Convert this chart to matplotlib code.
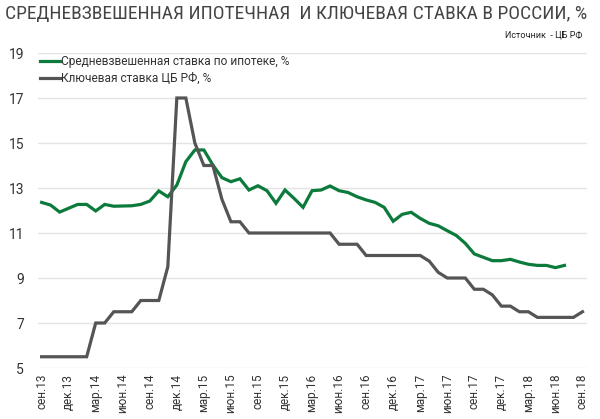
import matplotlib
matplotlib.use("Agg")
import matplotlib.pyplot as plt
from matplotlib import font_manager as fm

available = {f.name for f in fm.fontManager.ttflist}
def pick(cands):
    for c in cands:
        if c in available:
            return c
    return "DejaVu Sans"

COND = pick(["Roboto Condensed", "Liberation Sans Narrow", "Roboto", "DejaVu Sans"])
REG = pick(["Roboto", "Liberation Sans", "DejaVu Sans"])

# Tick labels (quarterly, Sep 2013 .. Sep 2018)
tick_labels = ["сен.13", "дек.13", "мар.14", "июн.14", "сен.14", "дек.14", "мар.15",
               "июн.15", "сен.15", "дек.15", "мар.16", "июн.16", "сен.16", "дек.16",
               "мар.17", "июн.17", "сен.17", "дек.17", "мар.18", "июн.18", "сен.18"]

# Monthly series starting Sep 2013
mortgage_rate = [12.36, 12.24, 11.93, 12.10, 12.27, 12.27, 11.98, 12.27, 12.19, 12.20,
                 12.21, 12.27, 12.42, 12.87, 12.61, 13.13, 14.17, 14.69, 14.69, 14.02,
                 13.46, 13.28, 13.41, 12.91, 13.10, 12.88, 12.32, 12.91, 12.54, 12.14,
                 12.88, 12.91, 13.09, 12.88, 12.80, 12.61, 12.47, 12.36, 12.14, 11.52,
                 11.83, 11.92, 11.65, 11.43, 11.32, 11.10, 10.89, 10.54, 10.07, 9.92,
                 9.77, 9.77, 9.83, 9.71, 9.61, 9.56, 9.56, 9.46, 9.56]

key_rate = [5.5, 5.5, 5.5, 5.5, 5.5, 5.5, 7.0, 7.0, 7.5, 7.5,
            7.5, 8.0, 8.0, 8.0, 9.5, 17.0, 17.0, 15.0, 14.0, 14.0,
            12.5, 11.5, 11.5, 11.0, 11.0, 11.0, 11.0, 11.0, 11.0, 11.0,
            11.0, 11.0, 11.0, 10.5, 10.5, 10.5, 10.0, 10.0, 10.0, 10.0,
            10.0, 10.0, 10.0, 9.75, 9.25, 9.0, 9.0, 9.0, 8.5, 8.5,
            8.25, 7.75, 7.75, 7.5, 7.5, 7.25, 7.25, 7.25, 7.25, 7.25, 7.5]

series_names = ["Средневзвешенная ставка по ипотеке, %", "Ключевая ставка ЦБ РФ, %"]
y_ticks = [5, 7, 9, 11, 13, 15, 17, 19]

GREEN = "#0b7a3b"
GRAY = "#555555"

fig = plt.figure(figsize=(6.0, 4.19), dpi=100)
ax = fig.add_axes([38/600, 1-368/419, (587-38)/600, (368-53)/419])

ax.plot(range(len(mortgage_rate)), mortgage_rate, color=GREEN, lw=2.3,
        solid_joinstyle="miter", label=series_names[0], zorder=3)
ax.plot(range(len(key_rate)), key_rate, color=GRAY, lw=2.3,
        solid_joinstyle="miter", label=series_names[1], zorder=3)

ax.set_xlim(-0.4, 60.5)
ax.set_ylim(5, 19)
ax.set_yticks(y_ticks)
ax.set_yticklabels([str(v) for v in y_ticks], family=REG, fontsize=10, color="#333333")
ax.set_xticks(range(0, 61, 3))
ax.set_xticklabels(tick_labels, rotation=90, family=REG, fontsize=8.5, color="#333333")
ax.tick_params(axis="y", length=0, pad=10)
ax.tick_params(axis="x", length=0, pad=4)
ax.grid(axis="y", color="#e4e4e4", lw=1)
ax.set_axisbelow(True)
for s in ax.spines.values():
    s.set_visible(False)

leg = ax.legend(loc="upper left", bbox_to_anchor=(0.0, 1.0), frameon=False,
                prop={"family": REG, "size": 8.6}, handlelength=1.7, handletextpad=0.1,
                borderaxespad=0.05, labelspacing=0.35, borderpad=0.1)
for t in leg.get_texts():
    t.set_color("#333333")

fig.text(0.008, 0.988, "СРЕДНЕВЗВЕШЕННАЯ ИПОТЕЧНАЯ  И КЛЮЧЕВАЯ СТАВКА В РОССИИ, %",
         family=COND, fontsize=14, color="#444444", ha="left", va="top")
fig.text(0.97, 0.905, "Источник  - ЦБ РФ", family=REG, fontsize=6.5,
         color="#222222", ha="right", va="bottom")

fig.savefig("out.png", dpi=100)
